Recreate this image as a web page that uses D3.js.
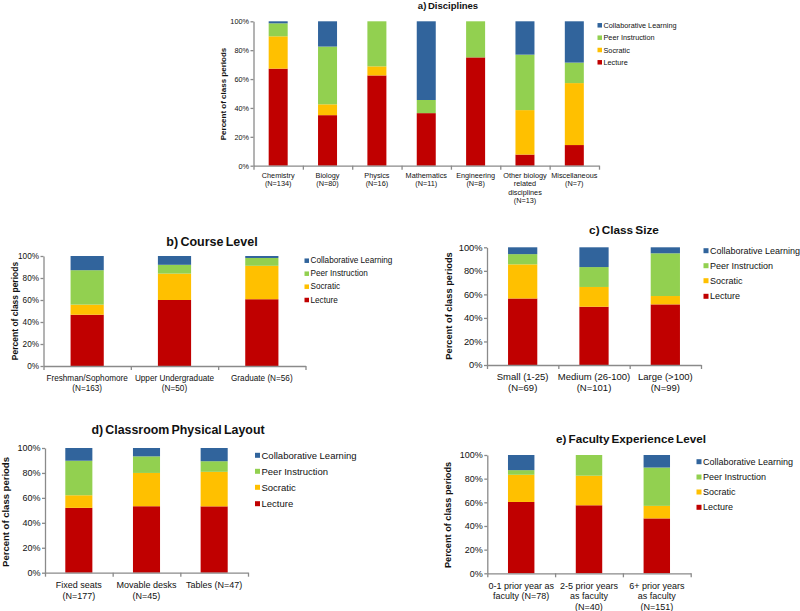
<!DOCTYPE html>
<html>
<head>
<meta charset="utf-8">
<script src="https://cdn.jsdelivr.net/npm/d3@7"></script>
<style>
  body { margin: 0; background: #fff; }
  text { font-family: "Liberation Sans", Arial, sans-serif; fill: #111; }
  .axis path, .axis line { stroke: #8a8a8a; stroke-width: 1.3; }
</style>
</head>
<body>
<div id="chart"></div>
<script>
// Teaching methods, stacked bottom to top
var methods = ["Lecture", "Socratic", "Peer Instruction", "Collaborative Learning"];
var methodColors = ["#c00000", "#ffc000", "#92d050", "#31649c"];
var yTicks = [0, 20, 40, 60, 80, 100];

// a) Disciplines
var disciplineLabels = [["Chemistry", "(N=134)"], ["Biology", "(N=80)"], ["Physics", "(N=16)"], ["Mathematics", "(N=11)"],
  ["Engineering", "(N=8)"], ["Other biology", "related", "disciplines", "(N=13)"], ["Miscellaneous", "(N=7)"]];
var disciplineLecture = [67.2, 35.0, 62.5, 36.4, 75.0, 7.7, 14.3];
var disciplineSocratic = [22.4, 7.5, 6.3, 0, 0, 30.8, 42.9];
var disciplinePeer = [9.0, 40.0, 31.2, 9.1, 25.0, 38.4, 14.2];
var disciplineCollab = [1.4, 17.5, 0, 54.5, 0, 23.1, 28.6];

// b) Course Level
var levelLabels = [["Freshman/Sophomore", "(N=163)"], ["Upper Undergraduate", "(N=50)"], ["Graduate (N=56)"]];
var levelLecture = [46.6, 60.0, 60.7];
var levelSocratic = [9.2, 24.0, 30.4];
var levelPeer = [31.3, 8.0, 7.1];
var levelCollab = [12.9, 8.0, 1.8];

// c) Class Size
var sizeLabels = [["Small (1-25)", "(N=69)"], ["Medium (26-100)", "(N=101)"], ["Large (>100)", "(N=99)"]];
var sizeLecture = [56.5, 49.5, 51.5];
var sizeSocratic = [29.0, 16.8, 7.1];
var sizePeer = [8.7, 16.9, 36.3];
var sizeCollab = [5.8, 16.8, 5.1];

// d) Classroom Physical Layout
var layoutLabels = [["Fixed seats", "(N=177)"], ["Movable desks", "(N=45)"], ["Tables (N=47)"]];
var layoutLecture = [52.0, 53.3, 53.2];
var layoutSocratic = [10.1, 26.7, 27.7];
var layoutPeer = [27.7, 13.3, 8.5];
var layoutCollab = [10.2, 6.7, 10.6];

// e) Faculty Experience Level
var expLabels = [["0-1 prior year as", "faculty (N=78)"], ["2-5 prior years", "as faculty", "(N=40)"], ["6+ prior years", "as faculty", "(N=151)"]];
var expLecture = [60.3, 57.5, 46.4];
var expSocratic = [23.0, 25.0, 10.6];
var expPeer = [3.9, 17.5, 32.4];
var expCollab = [12.8, 0, 10.6];

var svg = d3.select("#chart").append("svg")
  .attr("width", 800)
  .attr("height", 611);

function drawPanel(p) {
  var n = p.labels.length;
  var series = [p.lecture, p.socratic, p.peer, p.collab];

  var x = d3.scaleBand().domain(d3.range(n)).range([p.x0, p.x1])
    .paddingInner(p.pad).paddingOuter(p.pad / 2);
  var xEdge = d3.scaleLinear().domain([0, n]).range([p.x0, p.x1]);
  var y = d3.scaleLinear().domain([0, 100]).range([p.y1, p.y0]);

  var g = svg.append("g");

  // title
  g.append("text")
    .attr("x", p.titleX).attr("y", p.titleY)
    .attr("text-anchor", "middle").attr("dominant-baseline", "central")
    .style("font-size", p.titleSize + "px").style("font-weight", "bold")
    .style("word-spacing", "-0.1em")
    .text(p.title);

  // stacked bars
  for (var s = 0; s < series.length; s++) {
    g.append("g").selectAll("rect")
      .data(series[s])
      .enter().append("rect")
      .attr("x", function (d, i) { return x(i); })
      .attr("width", x.bandwidth())
      .attr("y", function (d, i) {
        var base = 0;
        for (var k = 0; k < s; k++) base += series[k][i];
        return y(base + d);
      })
      .attr("height", function (d) { return y(0) - y(d); })
      .style("fill", methodColors[s]);
  }

  // y axis
  g.append("g")
    .attr("class", "axis")
    .attr("transform", "translate(" + p.x0 + ",0)")
    .call(d3.axisLeft(y).tickValues(yTicks).tickFormat(function (d) { return d + "%"; })
      .tickSizeInner(3).tickSizeOuter(0).tickPadding(1.5))
    .selectAll("text").style("font-size", p.tickSize + "px").style("fill", "#111");

  // x axis with ticks between categories
  g.append("g")
    .attr("class", "axis")
    .attr("transform", "translate(0," + p.y1 + ")")
    .call(d3.axisBottom(xEdge).tickValues(d3.range(n + 1)).tickFormat("")
      .tickSizeInner(4).tickSizeOuter(0));

  // category labels
  var lab = g.append("g").selectAll("text")
    .data(p.labels)
    .enter().append("text")
    .attr("text-anchor", "middle")
    .style("font-size", p.labelSize + "px");
  lab.each(function (lines, i) {
    var t = d3.select(this);
    lines.forEach(function (line, j) {
      t.append("tspan")
        .attr("x", x(i) + x.bandwidth() / 2)
        .attr("y", p.labelY + j * p.labelStep)
        .attr("dominant-baseline", "central")
        .text(line);
    });
  });

  // y axis title
  g.append("text")
    .attr("transform", "translate(" + p.yTitleX + "," + p.yTitleY + ") rotate(-90)")
    .attr("text-anchor", "middle").attr("dominant-baseline", "central")
    .style("font-size", p.yTitleSize + "px").style("font-weight", "bold")
    .text("Percent of class periods");

  // legend, top entry is Collaborative Learning
  var leg = g.append("g").selectAll("g")
    .data(methods.slice().reverse())
    .enter().append("g")
    .attr("transform", function (d, i) { return "translate(" + p.legX + "," + p.legY[i] + ")"; });
  leg.append("rect")
    .attr("x", 0).attr("y", -p.legBox / 2)
    .attr("width", p.legBox).attr("height", p.legBox)
    .style("fill", function (d, i) { return methodColors[3 - i]; });
  leg.append("text")
    .attr("x", p.legBox + 1.5).attr("y", 0)
    .attr("dominant-baseline", "central")
    .style("font-size", p.legSize + "px")
    .text(function (d) { return d; });
}

drawPanel({
  title: "a) Disciplines", titleX: 448, titleY: 5.5, titleSize: 9.5,
  labels: disciplineLabels, lecture: disciplineLecture, socratic: disciplineSocratic, peer: disciplinePeer, collab: disciplineCollab,
  x0: 253.5, x1: 599, y0: 21.3, y1: 165.7, pad: 0.615,
  tickSize: 7.3, labelSize: 7.3, labelY: 175, labelStep: 8.6,
  yTitleX: 223.5, yTitleY: 94, yTitleSize: 8,
  legX: 597.5, legY: [25.3, 37.7, 50, 62.3], legBox: 4.5, legSize: 7.3
});

drawPanel({
  title: "b) Course Level", titleX: 212, titleY: 242, titleSize: 12.5,
  labels: levelLabels, lecture: levelLecture, socratic: levelSocratic, peer: levelPeer, collab: levelCollab,
  x0: 43.5, x1: 305.5, y0: 256, y1: 366, pad: 0.62,
  tickSize: 8.2, labelSize: 8.2, labelY: 378, labelStep: 10.5,
  yTitleX: 14.5, yTitleY: 311, yTitleSize: 8.5,
  legX: 304.5, legY: [260.7, 273.7, 286.7, 300], legBox: 4.5, legSize: 8.2
});

drawPanel({
  title: "c) Class Size", titleX: 624, titleY: 230, titleSize: 11.8,
  labels: sizeLabels, lecture: sizeLecture, socratic: sizeSocratic, peer: sizePeer, collab: sizeCollab,
  x0: 487, x1: 701, y0: 247.3, y1: 365, pad: 0.59,
  tickSize: 9.3, labelSize: 9.5, labelY: 376.7, labelStep: 11,
  yTitleX: 449, yTitleY: 306, yTitleSize: 9.3,
  legX: 703.5, legY: [250.7, 265.7, 280.7, 296.3], legBox: 5, legSize: 9
});

drawPanel({
  title: "d) Classroom Physical Layout", titleX: 178, titleY: 430, titleSize: 12.4,
  labels: layoutLabels, lecture: layoutLecture, socratic: layoutSocratic, peer: layoutPeer, collab: layoutCollab,
  x0: 45, x1: 248, y0: 448, y1: 572.7, pad: 0.6,
  tickSize: 9, labelSize: 9, labelY: 585, labelStep: 11,
  yTitleX: 5, yTitleY: 512, yTitleSize: 9.5,
  legX: 255, legY: [455.3, 471.3, 487.3, 503.7], legBox: 5, legSize: 9.5
});

drawPanel({
  title: "e) Faculty Experience Level", titleX: 631, titleY: 438, titleSize: 11.7,
  labels: expLabels, lecture: expLecture, socratic: expSocratic, peer: expPeer, collab: expCollab,
  x0: 487.3, x1: 690.7, y0: 455, y1: 573.3, pad: 0.61,
  tickSize: 9, labelSize: 9, labelY: 586, labelStep: 10.4,
  yTitleX: 448, yTitleY: 515, yTitleSize: 9.2,
  legX: 696.5, legY: [461.7, 477, 492, 507.3], legBox: 5, legSize: 9
});
</script>
</body>
</html>
